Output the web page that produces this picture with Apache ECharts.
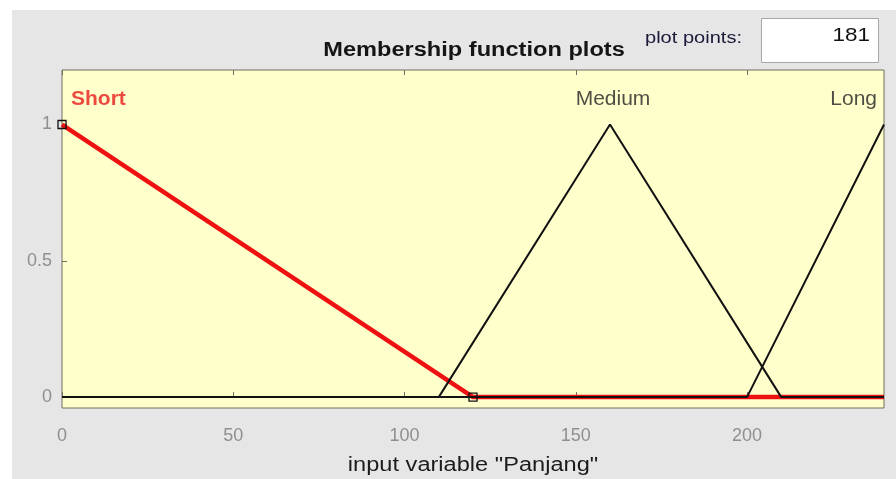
<!DOCTYPE html>
<html>
<head>
<meta charset="utf-8">
<script src="https://cdn.jsdelivr.net/npm/echarts@6/dist/echarts.min.js"></script>
<style>
  html, body { margin: 0; padding: 0; background: #ffffff; }
  #chart { width: 896px; height: 479px; }
</style>
</head>
<body>
<div id="chart"></div>
<script>
// Membership functions of input variable "Panjang"
const shortX  = [0, 120, 240];
const shortY  = [1, 0, 0];
const mediumX = [0, 110, 160, 210, 240];
const mediumY = [0, 0, 1, 0, 0];
const longX   = [0, 200, 240];
const longY   = [0, 0, 1];

const mfNames  = ['Short', 'Medium', 'Long'];
const mfPeakX  = [0, 160, 240];
const mfLabelY = 1.1;

const xTicks = [0, 50, 100, 150, 200];
const yTicks = [0, 0.5, 1];
const plotPoints = '181';

const pairs = (xs, ys) => xs.map((x, i) => [x, ys[i]]);

const FONT = "'Liberation Sans', Arial, sans-serif";
const WIDE = 1.18; // horizontal stretch of the panel's text
const chart = echarts.init(document.getElementById('chart'));

// Selected function shows hollow squares at its first two breakpoints
const shortData = pairs(shortX, shortY).map((p, i) => ({
  value: p,
  symbol: i < 2 ? 'rect' : 'none'
}));

chart.setOption({
  animation: false,
  backgroundColor: '#ffffff',
  graphic: [
    { type: 'rect', z: -100, shape: { x: 12, y: 10, width: 884, height: 469 },
      style: { fill: '#e6e6e6' } },
    { type: 'text', x: 474, y: 50, scaleX: WIDE, z: 10,
      style: { text: 'Membership function plots', font: 'bold 20px ' + FONT,
        fill: '#151515', align: 'center', verticalAlign: 'middle' } },
    { type: 'text', x: 645, y: 38, scaleX: WIDE, z: 10,
      style: { text: 'plot points:', font: '17px ' + FONT, fill: '#1a1a3a',
        align: 'left', verticalAlign: 'middle' } },
    { type: 'rect', z: 10, shape: { x: 761.5, y: 18.5, width: 117, height: 44 },
      style: { fill: '#ffffff', stroke: '#a8a8a8', lineWidth: 1 } },
    { type: 'text', x: 870, y: 36, scaleX: WIDE, z: 11,
      style: { text: plotPoints, font: '19px ' + FONT, fill: '#111111',
        align: 'right', verticalAlign: 'middle' } },
    { type: 'text', x: 473, y: 465, scaleX: WIDE, z: 10,
      style: { text: 'input variable "Panjang"', font: '20px ' + FONT, fill: '#1c1c1c',
        align: 'center', verticalAlign: 'middle' } }
  ],
  grid: {
    left: 62, top: 70, right: 12, bottom: 71,
    show: true,
    backgroundColor: '#ffffcc',
    borderColor: '#6e6e60',
    borderWidth: 1
  },
  xAxis: [
    {
      type: 'value', min: 0, max: 240, position: 'bottom',
      axisLine: { show: false },
      splitLine: { show: false },
      axisTick: { show: true, inside: true, length: 5, customValues: xTicks,
        lineStyle: { color: '#6e6e60' } },
      axisLabel: { customValues: xTicks, margin: 19, color: '#8f8f8f',
        fontSize: 18, fontFamily: FONT }
    },
    {
      type: 'value', min: 0, max: 240, position: 'top',
      axisLine: { show: false },
      splitLine: { show: false },
      axisTick: { show: true, inside: true, length: 5, customValues: xTicks,
        lineStyle: { color: '#6e6e60' } },
      axisLabel: { show: false }
    }
  ],
  yAxis: {
    type: 'value', min: -0.04, max: 1.2,
    axisLine: { show: false },
    splitLine: { show: false },
    axisTick: { show: true, inside: true, length: 5, customValues: yTicks,
      lineStyle: { color: '#6e6e60' } },
    axisLabel: { customValues: yTicks, margin: 10, color: '#8f8f8f',
      fontSize: 18, fontFamily: FONT }
  },
  series: [
    {
      name: 'Short', type: 'line', z: 2,
      data: shortData,
      showSymbol: true, symbolSize: 8,
      itemStyle: { color: 'transparent', borderColor: '#111111', borderWidth: 1.3 },
      lineStyle: { color: '#ee1111', width: 4.5 }
    },
    {
      name: 'Medium', type: 'line', z: 3,
      data: pairs(mediumX, mediumY),
      showSymbol: false,
      lineStyle: { color: '#111111', width: 2 }
    },
    {
      name: 'Long', type: 'line', z: 3,
      data: pairs(longX, longY),
      showSymbol: false,
      lineStyle: { color: '#111111', width: 2 }
    },
    {
      name: 'labels', type: 'scatter', z: 4,
      symbolSize: 0,
      data: mfNames.map((n, i) => ({
        value: [mfPeakX[i], mfLabelY],
        label: {
          show: true, formatter: n,
          position: 'inside',
          align: i === 0 ? 'left' : (i === 2 ? 'right' : 'center'),
          offset: i === 0 ? [9, 2] : (i === 2 ? [-7, 2] : [3, 2]),
          color: i === 0 ? '#e81c1c' : '#222222',
          fontWeight: i === 0 ? 'bold' : 'normal',
          fontSize: 21, fontFamily: FONT
        }
      }))
    }
  ]
});
</script>
</body>
</html>
